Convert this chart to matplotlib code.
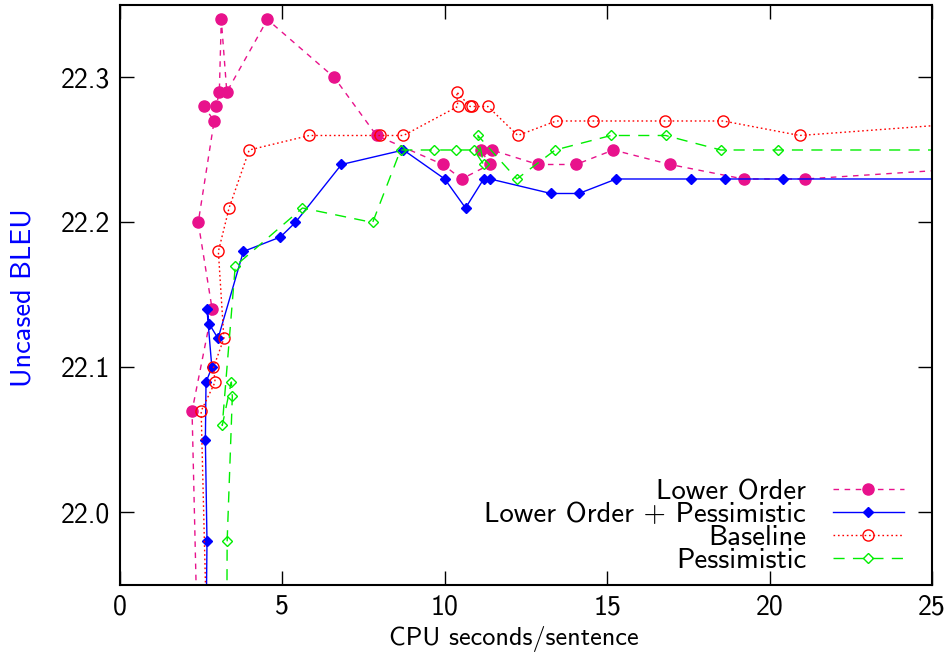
import matplotlib
matplotlib.use("Agg")
import matplotlib.pyplot as plt

# Lower Order (values below 21.95 and above 25 sec are clipped off the axes)
lo_x = [2.50, 2.22, 2.84, 2.41, 2.90, 2.59, 2.96, 3.06, 3.12, 3.29, 4.54, 6.60,
        7.90, 9.94, 10.52, 11.39, 11.11, 11.45, 12.87, 14.04, 15.19, 16.94,
        19.20, 21.10, 28.0]
lo_y = [21.80, 22.07, 22.14, 22.20, 22.27, 22.28, 22.28, 22.29, 22.34, 22.29,
        22.34, 22.30, 22.26, 22.24, 22.23, 22.24, 22.25, 22.25, 22.24, 22.24,
        22.25, 22.24, 22.23, 22.23, 22.24]

# Lower Order + Pessimistic
lp_x = [2.62, 2.68, 2.63, 2.65, 2.83, 2.68, 2.75, 3.02, 3.80, 4.94, 5.40, 6.82,
        8.73, 10.00, 10.64, 11.20, 11.40, 13.27, 14.13, 15.28, 17.57, 18.64,
        20.40, 28.0]
lp_y = [21.85, 21.98, 22.05, 22.09, 22.10, 22.14, 22.13, 22.12, 22.18, 22.19,
        22.20, 22.24, 22.25, 22.23, 22.21, 22.23, 22.23, 22.22, 22.22, 22.23,
        22.23, 22.23, 22.23, 22.23]

# Baseline
bl_x = [2.80, 2.50, 2.93, 2.88, 3.20, 3.03, 3.36, 3.98, 5.83, 8.02, 8.73, 10.40,
        10.37, 10.78, 10.83, 11.33, 12.25, 13.43, 14.57, 16.77, 18.58, 20.93,
        27.0]
bl_y = [21.80, 22.07, 22.09, 22.10, 22.12, 22.18, 22.21, 22.25, 22.26, 22.26,
        22.26, 22.28, 22.29, 22.28, 22.28, 22.28, 22.26, 22.27, 22.27, 22.27,
        22.27, 22.26, 22.27]

# Pessimistic
ps_x = [3.28, 3.30, 3.46, 3.43, 3.15, 3.55, 5.62, 7.78, 8.64, 9.66, 10.34, 10.90,
        11.20, 11.02, 12.22, 13.40, 15.12, 16.80, 18.50, 20.25, 28.0]
ps_y = [21.85, 21.98, 22.08, 22.09, 22.06, 22.17, 22.21, 22.20, 22.25, 22.25,
        22.25, 22.25, 22.24, 22.26, 22.23, 22.25, 22.26, 22.26, 22.25, 22.25,
        22.25]

x_ticks = [0, 5, 10, 15, 20, 25]
y_ticks = [22.0, 22.1, 22.2, 22.3]

# cmss10 ships with matplotlib and is close to the LaTeX sans font
plt.rcParams['font.family'] = ['cmss10', 'DejaVu Sans']
plt.rcParams['axes.unicode_minus'] = False

fig = plt.figure(figsize=(9.49, 6.57), dpi=100)
ax = fig.add_axes([0.1264, 0.1096, 0.8556, 0.8828])

ax.plot(lo_x, lo_y, color='#e8128c', lw=1.0, dashes=(4, 4), marker='o',
        ms=8, mfc='#e8128c', mec='#e8128c', label='Lower Order')
ax.plot(lp_x, lp_y, color='#0000ff', lw=1.0, marker='D', ms=5,
        mfc='#0000ff', mec='#0000ff', label='Lower Order + Pessimistic')
ax.plot(bl_x, bl_y, color='#ff0000', lw=1.0, dashes=(1.2, 2), marker='o',
        ms=8, mfc='none', mec='#ff0000', mew=1.0, label='Baseline')
ax.plot(ps_x, ps_y, color='#00ee00', lw=1.0, dashes=(8, 6), marker='D',
        ms=5, mfc='none', mec='#00ee00', mew=1.0, label='Pessimistic')

ax.set_xlim(0, 25)
ax.set_ylim(21.95, 22.35)
ax.set_xticks(x_ticks)
ax.set_yticks(y_ticks)
ax.set_yticklabels(['%.1f' % v for v in y_ticks])
ax.tick_params(direction='in', length=10, width=1, top=True, right=True,
               labelsize=20, pad=7)
for s in ax.spines.values():
    s.set_linewidth(1.5)

ax.set_xlabel('CPU seconds/sentence', fontsize=18.8)
ax.xaxis.set_label_coords(0.485, -0.0707)
ax.set_ylabel('Uncased BLEU', fontsize=20.4, color='#0000ff')
ax.yaxis.set_label_coords(-0.1034, 0.4957)

ax.legend(loc='lower right', markerfirst=False, frameon=False, fontsize=20.7,
          handlelength=2.45, handletextpad=0.94, labelspacing=-0.08,
          numpoints=1, borderaxespad=0.3, bbox_to_anchor=(0.99, -0.0138))

fig.savefig('out.png', dpi=100)
